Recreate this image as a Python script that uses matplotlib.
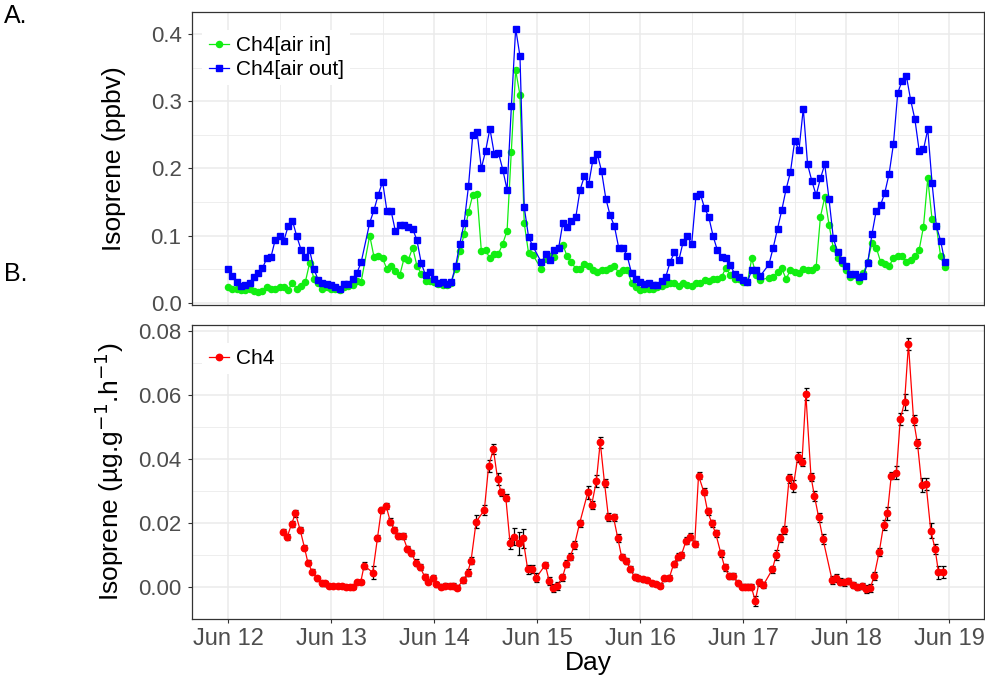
import matplotlib
matplotlib.use('Agg')
import matplotlib.pyplot as plt
from matplotlib.ticker import MultipleLocator

plt.rcParams['font.family'] = ['Liberation Sans', 'DejaVu Sans']

# x axis: hours since Jun 12 00:00
day_labels = ['Jun 12', 'Jun 13', 'Jun 14', 'Jun 15', 'Jun 16', 'Jun 17', 'Jun 18', 'Jun 19']

# panel A: hourly samples, three hours missing
gap_hours = [32, 72, 125]
hours_top = [h for h in range(168) if h not in gap_hours]

air_in = [
    0.024, 0.021, 0.020, 0.019, 0.019, 0.021, 0.018, 0.016, 0.017, 0.023, 0.021, 0.021,
    0.023, 0.023, 0.019, 0.030, 0.020, 0.025, 0.031, 0.059, 0.036, 0.030, 0.021, 0.024,
    0.021, 0.020, 0.019, 0.024, 0.025, 0.026, 0.033, 0.031, 0.100, 0.068, 0.069,
    0.066, 0.050, 0.054, 0.047, 0.041, 0.066, 0.064, 0.082, 0.055, 0.043, 0.033, 0.033,
    0.031, 0.028, 0.026, 0.026, 0.030, 0.050, 0.077, 0.102, 0.135, 0.160, 0.162, 0.077,
    0.078, 0.066, 0.072, 0.073, 0.088, 0.107, 0.225, 0.346, 0.309, 0.118, 0.074, 0.071,
    0.050, 0.065, 0.070, 0.068, 0.081, 0.086, 0.069, 0.061, 0.050, 0.050, 0.058,
    0.055, 0.049, 0.045, 0.049, 0.048, 0.051, 0.055, 0.044, 0.049, 0.049, 0.030, 0.024,
    0.019, 0.020, 0.021, 0.021, 0.023, 0.025, 0.028, 0.029, 0.030, 0.025, 0.029, 0.026,
    0.025, 0.029, 0.030, 0.034, 0.033, 0.036, 0.035, 0.039, 0.052, 0.041, 0.036, 0.035,
    0.031, 0.031, 0.066, 0.041, 0.034, 0.037, 0.039, 0.046, 0.051, 0.035, 0.049,
    0.046, 0.044, 0.050, 0.049, 0.049, 0.053, 0.128, 0.157, 0.116, 0.081, 0.066, 0.059,
    0.049, 0.039, 0.041, 0.033, 0.044, 0.061, 0.089, 0.082, 0.061, 0.057, 0.055, 0.066,
    0.069, 0.069, 0.061, 0.063, 0.070, 0.079, 0.113, 0.185, 0.124, 0.114, 0.069, 0.053,
]

air_out = [
    0.050, 0.040, 0.031, 0.025, 0.026, 0.030, 0.038, 0.044, 0.051, 0.066, 0.068, 0.094,
    0.099, 0.092, 0.114, 0.122, 0.099, 0.079, 0.068, 0.078, 0.050, 0.034, 0.030, 0.028,
    0.026, 0.024, 0.021, 0.028, 0.028, 0.035, 0.044, 0.060, 0.119, 0.138, 0.161,
    0.180, 0.137, 0.136, 0.106, 0.116, 0.116, 0.113, 0.110, 0.093, 0.059, 0.041, 0.045,
    0.036, 0.030, 0.031, 0.028, 0.031, 0.054, 0.088, 0.119, 0.173, 0.249, 0.254, 0.200,
    0.226, 0.259, 0.222, 0.223, 0.198, 0.168, 0.292, 0.408, 0.367, 0.142, 0.098, 0.084,
    0.060, 0.072, 0.064, 0.078, 0.081, 0.119, 0.112, 0.121, 0.127, 0.168, 0.188,
    0.176, 0.213, 0.222, 0.196, 0.155, 0.130, 0.114, 0.082, 0.082, 0.069, 0.044, 0.036,
    0.031, 0.028, 0.030, 0.026, 0.026, 0.033, 0.039, 0.061, 0.075, 0.063, 0.090, 0.099,
    0.087, 0.159, 0.162, 0.141, 0.127, 0.099, 0.078, 0.068, 0.066, 0.056, 0.043, 0.039,
    0.034, 0.031, 0.049, 0.049, 0.040, 0.057, 0.082, 0.110, 0.138, 0.169, 0.194,
    0.241, 0.227, 0.289, 0.206, 0.181, 0.160, 0.185, 0.206, 0.154, 0.096, 0.075, 0.064,
    0.054, 0.042, 0.042, 0.039, 0.040, 0.059, 0.102, 0.137, 0.145, 0.164, 0.192, 0.236,
    0.312, 0.330, 0.338, 0.302, 0.273, 0.226, 0.228, 0.258, 0.178, 0.114, 0.092, 0.060,
]

# panel B: emission rate with error bars
hours_ch4 = [
    12.9, 13.8, 14.8, 15.7, 16.8, 17.8, 18.6, 19.6, 20.7, 21.8, 22.6, 23.6,
    24.5, 25.6, 26.5, 27.4, 28.4, 29.2, 30.0, 30.9, 31.7, 33.7, 34.8, 35.7,
    36.8, 37.8, 38.7, 39.7, 40.7, 41.8, 42.7, 43.7, 44.7, 45.8, 46.5, 47.7,
    48.5, 49.6, 50.6, 51.6, 52.5, 53.4, 54.8, 55.8, 56.6, 57.8, 59.7, 60.7,
    61.8, 62.8, 63.6, 64.7, 65.7, 66.6, 67.7, 68.7, 69.8, 70.8, 71.8, 73.9,
    74.8, 75.8, 76.6, 77.9, 78.8, 79.7, 80.7, 81.9, 83.8, 84.7, 85.8, 86.7,
    87.7, 88.6, 89.8, 90.8, 91.7, 92.7, 93.7, 94.7, 95.6, 96.6, 97.7, 98.7,
    99.7, 100.7, 101.6, 102.8, 103.8, 104.7, 105.6, 106.7, 107.7, 108.7, 109.6, 110.8,
    111.7, 112.7, 113.6, 114.8, 115.7, 116.7, 117.6, 118.8, 119.7, 120.5, 121.2, 121.9,
    122.8, 123.7, 124.7, 126.8, 127.7, 128.6, 129.6, 130.7, 131.7, 132.7, 133.7, 134.6,
    135.8, 136.6, 137.6, 138.6, 140.7, 141.6, 142.6, 143.5, 144.5, 145.5, 146.5, 147.7,
    148.7, 149.6, 150.5, 151.7, 152.7, 153.6, 154.5, 155.7, 156.6, 157.6, 158.5, 159.7,
    160.6, 161.6, 162.6, 163.7, 164.7, 165.5, 166.5,
]

ch4 = [
    0.0174, 0.0158, 0.0198, 0.0231, 0.0179, 0.0124, 0.0077, 0.0049, 0.0028, 0.0012, 0.0012, 0.0004,
    0.0004, 0.0005, 0.0004, 0.0002, 0.0002, 0.0002, 0.0016, 0.0016, 0.0068, 0.0046, 0.0153, 0.0241,
    0.0255, 0.0205, 0.0179, 0.0160, 0.0161, 0.0119, 0.0108, 0.0077, 0.0064, 0.0033, 0.0018, 0.0030,
    0.0009, 0.0002, 0.0005, 0.0004, 0.0005, -0.0001, 0.0023, 0.0046, 0.0083, 0.0205, 0.0241, 0.0379,
    0.0431, 0.0338, 0.0296, 0.0280, 0.0137, 0.0158, 0.0137, 0.0153, 0.0056, 0.0058, 0.0030, 0.0070,
    0.0020, -0.0003, 0.0004, 0.0031, 0.0073, 0.0096, 0.0132, 0.0200, 0.0296, 0.0257, 0.0332, 0.0453,
    0.0325, 0.0220, 0.0218, 0.0153, 0.0094, 0.0083, 0.0057, 0.0031, 0.0028, 0.0025, 0.0023, 0.0012,
    0.0010, 0.0005, 0.0028, 0.0030, 0.0073, 0.0096, 0.0101, 0.0145, 0.0158, 0.0135, 0.0349, 0.0299,
    0.0238, 0.0200, 0.0168, 0.0106, 0.0062, 0.0035, 0.0035, 0.0012, 0.0002, 0.0002, 0.0002, 0.0002,
    -0.0043, 0.0015, 0.0007, 0.0056, 0.0101, 0.0153, 0.0179, 0.0340, 0.0316, 0.0406, 0.0392, 0.0603,
    0.0345, 0.0285, 0.0218, 0.0150, 0.0023, 0.0028, 0.0018, 0.0015, 0.0020, 0.0007, 0.0002, 0.0005,
    -0.0006, -0.0003, 0.0035, 0.0111, 0.0194, 0.0231, 0.0349, 0.0358, 0.0525, 0.0579, 0.0759, 0.0522,
    0.0449, 0.0319, 0.0322, 0.0177, 0.0120, 0.0047, 0.0047,
]

ch4_err = [
    0.0009, 0.0009, 0.0010, 0.0010, 0.0009, 0.0009, 0.0008, 0.0008, 0.0008, 0.0007, 0.0007, 0.0006,
    0.0006, 0.0006, 0.0006, 0.0006, 0.0006, 0.0006, 0.0007, 0.0007, 0.0010, 0.0019, 0.0010, 0.0010,
    0.0009, 0.0010, 0.0009, 0.0010, 0.0010, 0.0010, 0.0010, 0.0010, 0.0009, 0.0009, 0.0008, 0.0009,
    0.0007, 0.0007, 0.0007, 0.0007, 0.0007, 0.0008, 0.0009, 0.0010, 0.0011, 0.0020, 0.0015, 0.0018,
    0.0015, 0.0019, 0.0012, 0.0012, 0.0018, 0.0026, 0.0035, 0.0030, 0.0015, 0.0012, 0.0015, 0.0010,
    0.0012, 0.0013, 0.0013, 0.0011, 0.0011, 0.0011, 0.0012, 0.0011, 0.0020, 0.0013, 0.0018, 0.0017,
    0.0013, 0.0012, 0.0012, 0.0012, 0.0010, 0.0010, 0.0010, 0.0009, 0.0008, 0.0008, 0.0007, 0.0007,
    0.0007, 0.0007, 0.0008, 0.0008, 0.0009, 0.0010, 0.0010, 0.0011, 0.0010, 0.0009, 0.0011, 0.0011,
    0.0011, 0.0011, 0.0010, 0.0010, 0.0010, 0.0010, 0.0010, 0.0008, 0.0007, 0.0007, 0.0007, 0.0007,
    0.0016, 0.0010, 0.0010, 0.0010, 0.0015, 0.0013, 0.0013, 0.0013, 0.0018, 0.0015, 0.0013, 0.0019,
    0.0013, 0.0015, 0.0015, 0.0015, 0.0013, 0.0013, 0.0010, 0.0010, 0.0010, 0.0010, 0.0009, 0.0009,
    0.0012, 0.0013, 0.0013, 0.0012, 0.0015, 0.0020, 0.0012, 0.0020, 0.0019, 0.0024, 0.0019, 0.0015,
    0.0015, 0.0022, 0.0018, 0.0023, 0.0015, 0.0020, 0.0018,
]

tick_col = '#4D4D4D'
grid_col = '#EBEBEB'


def style_axes(ax):
    ax.set_facecolor('white')
    ax.xaxis.set_major_locator(MultipleLocator(24))
    ax.xaxis.set_minor_locator(MultipleLocator(12))
    ax.grid(True, which='major', color=grid_col, lw=1.1, zorder=0)
    ax.grid(True, which='minor', color=grid_col, lw=0.6, zorder=0)
    ax.set_axisbelow(True)
    for sp in ax.spines.values():
        sp.set_color('#333333')
        sp.set_linewidth(0.9)
    ax.tick_params(axis='y', which='major', length=3, width=0.8, color='#333333',
                   labelcolor=tick_col, labelsize=16, pad=4.5)
    ax.tick_params(axis='both', which='minor', length=0)
    ax.set_xlim(-8.4, 176.1)


fig = plt.figure(figsize=(9.85, 6.77), dpi=100)
ax1 = fig.add_axes([192 / 985, 1 - 305 / 677, 792 / 985, 293 / 677])
ax2 = fig.add_axes([192 / 985, 1 - 619 / 677, 792 / 985, 294 / 677])

# panel A
style_axes(ax1)
ax1.plot(hours_top, air_in, color='#11EE11', lw=0.9, marker='o', ms=4.4,
         label='Ch4[air in]', zorder=3)
ax1.plot(hours_top, air_out, color='#0000FF', lw=0.9, marker='s', ms=4.3,
         label='Ch4[air out]', zorder=3)
ax1.set_ylim(-0.0034, 0.4326)
ax1.yaxis.set_major_locator(MultipleLocator(0.1))
ax1.yaxis.set_minor_locator(MultipleLocator(0.05))
ax1.yaxis.set_major_formatter(plt.FormatStrFormatter('%.1f'))
ax1.tick_params(axis='x', which='major', length=0, labelbottom=False)
ax1.set_ylabel('Isoprene (ppbv)', fontsize=19)
ax1.yaxis.set_label_coords(-0.083, 0.5)
leg1 = ax1.legend(loc='upper left', bbox_to_anchor=(0.013, 0.94), borderaxespad=0,
                  fontsize=15, handlelength=1.0, handletextpad=0.3, labelspacing=0.25,
                  borderpad=0.3, frameon=True, fancybox=False, numpoints=1)
leg1.get_frame().set_edgecolor('none')
leg1.get_frame().set_facecolor('white')
leg1.get_frame().set_alpha(1)

# panel B
style_axes(ax2)
ax2.errorbar(hours_ch4, ch4, yerr=ch4_err, fmt='none', ecolor='black', elinewidth=0.9,
             capsize=1.8, capthick=0.9, zorder=3)
ax2.plot(hours_ch4, ch4, color='#FF0000', lw=0.9, marker='o', ms=4.6, label='Ch4', zorder=4)
ax2.set_ylim(-0.0099, 0.0819)
ax2.yaxis.set_major_locator(MultipleLocator(0.02))
ax2.yaxis.set_minor_locator(MultipleLocator(0.01))
ax2.yaxis.set_major_formatter(plt.FormatStrFormatter('%.2f'))
ax2.tick_params(axis='x', which='major', length=3, width=0.8, color='#333333',
                labelcolor=tick_col, labelsize=17, pad=3.5)
ax2.set_xticks([24 * i for i in range(len(day_labels))])
ax2.set_xticklabels(day_labels)
ax2.set_xlim(-8.4, 176.1)
ax2.set_ylabel('Isoprene (µg.g$^{-1}$.h$^{-1}$)', fontsize=19)
ax2.yaxis.set_label_coords(-0.083, 0.5)
ax2.set_xlabel('Day', fontsize=19)
ax2.xaxis.set_label_coords(0.5, -0.11)
leg2 = ax2.legend(loc='upper left', bbox_to_anchor=(0.013, 0.94), borderaxespad=0,
                  fontsize=15, handlelength=1.0, handletextpad=0.3,
                  borderpad=0.3, frameon=True, fancybox=False, numpoints=1)
leg2.get_frame().set_edgecolor('none')
leg2.get_frame().set_facecolor('white')
leg2.get_frame().set_alpha(1)

fig.text(4 / 985, 1 - 4 / 677, 'A.', fontsize=18, ha='left', va='top')
fig.text(4 / 985, 1 - 262 / 677, 'B.', fontsize=18, ha='left', va='top')

fig.savefig('out.png', dpi=100)
